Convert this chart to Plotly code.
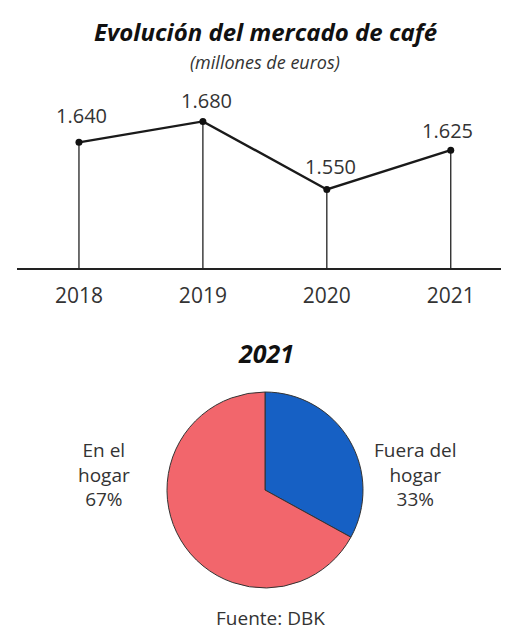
import plotly.graph_objects as go

years = [2018, 2019, 2020, 2021]
market = [1640, 1680, 1550, 1625]
pie_labels = ["Fuera del hogar", "En el hogar"]
pie_values = [33, 67]
pie_colors = ["#1660C4", "#F2666C"]

# label placement offsets (pixels) relative to each point
label_dx = [3, 4, 4, -3]
label_dy = [27, 21, 23, 20]

OFF = 8  # page body margin
W, H = 509 - OFF, 633 - OFF
FONT = "Open Sans"
TXT = "#333333"

def px(x):
    return (x - OFF) / W

def py(y):
    return 1 - (y - OFF) / H

base = 1400
labels_txt = [f"{v:,}".replace(",", ".") for v in market]

stem_x, stem_y = [], []
for x, v in zip(years, market):
    stem_x += [x, x, None]
    stem_y += [base, v, None]

fig = go.Figure()
fig.add_trace(go.Scatter(x=stem_x, y=stem_y, mode="lines",
                         line=dict(color="#222222", width=1.3),
                         hoverinfo="skip", showlegend=False))
fig.add_trace(go.Scatter(x=years, y=market, mode="lines+markers",
                         line=dict(color="#1a1a1a", width=2.4),
                         marker=dict(color="#111111", size=7),
                         showlegend=False))
fig.add_trace(go.Pie(labels=pie_labels, values=pie_values, sort=False,
                     direction="clockwise", rotation=0,
                     marker=dict(colors=pie_colors, line=dict(color="#333333", width=1)),
                     textinfo="none", showlegend=False, hoverinfo="label+percent",
                     domain=dict(x=[px(167), px(363)], y=[py(588), py(392)])))

def ann(text, x, y, size, color=TXT):
    return dict(text=text, x=px(x), y=py(y), xref="paper", yref="paper",
                xanchor="center", yanchor="middle", showarrow=False, align="center",
                font=dict(family=FONT, size=size, color=color))

annotations = [
    ann("<b><i>Evolución del mercado de café</i></b>", 266, 32, 24, "#111111"),
    ann("<i>(millones de euros)</i>", 265, 62, 18),
    ann("<b><i>2021</i></b>", 266, 353, 25, "#111111"),
    ann("En el<br>hogar<br>67%", 104, 474, 19),
    ann("Fuera del<br>hogar<br>33%", 415, 474, 19),
    ann("Fuente: DBK", 270, 618, 19),
]
for x, v, t, dx, dy in zip(years, market, labels_txt, label_dx, label_dy):
    annotations.append(dict(text=t, x=x, y=v, xref="x", yref="y",
                            xshift=dx, yshift=dy, showarrow=False,
                            xanchor="center", yanchor="middle",
                            font=dict(family=FONT, size=20, color=TXT)))

fig.update_layout(
    width=W, height=H, margin=dict(l=0, r=0, t=0, b=0),
    paper_bgcolor="white", plot_bgcolor="white",
    font=dict(family=FONT, color=TXT),
    xaxis=dict(domain=[px(17), 1], range=[2017.5, 2021.47], showgrid=False,
               zeroline=False, showline=True, linecolor="#222222", linewidth=1.5,
               tickvals=years, ticktext=[str(y) for y in years],
               tickfont=dict(family=FONT, size=21, color=TXT), ticks="",
               ticklabelstandoff=8),
    yaxis=dict(domain=[py(268), py(90)], range=[base, 1740], visible=False),
    annotations=annotations,
)

fig.write_html("out.html")
